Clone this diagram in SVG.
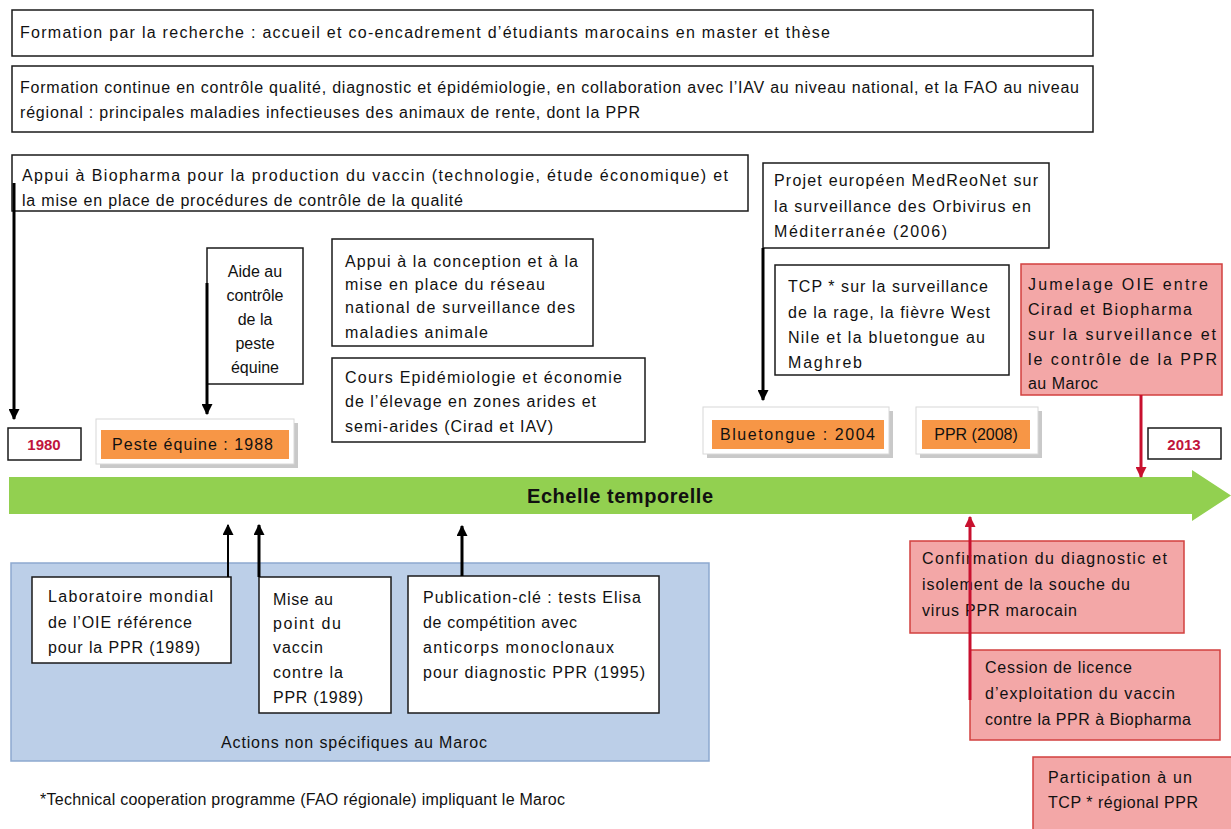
<svg xmlns="http://www.w3.org/2000/svg" width="1231" height="829" viewBox="0 0 1231 829">
<defs>
<style>
text{font-family:"Liberation Sans",Arial,sans-serif;font-size:16px;fill:#111}
.bx{fill:#fff;stroke:#1a1a1a;stroke-width:1.5}
.rd{fill:#F3A7A7;stroke:#D2403F;stroke-width:1.5}
.or{fill:#F79646}
.fr{fill:#fff;stroke:#d8d8d8;stroke-width:1}
.sh{fill:#c9c9c9}
.yr{font-weight:bold;fill:#C0143C;font-size:15px}
.c{text-anchor:middle}
.ln{stroke:#000;stroke-width:3;fill:none}
.lr{stroke:#C8102E;stroke-width:3;fill:none}
</style>
<marker id="ab" viewBox="0 0 10 10" refX="9" refY="5" markerWidth="11" markerHeight="11" markerUnits="userSpaceOnUse" orient="auto"><path d="M0,0 L10,5 L0,10 z" fill="#000"/></marker>
<marker id="ar" viewBox="0 0 10 10" refX="9" refY="5" markerWidth="11" markerHeight="11" markerUnits="userSpaceOnUse" orient="auto"><path d="M0,0 L10,5 L0,10 z" fill="#C8102E"/></marker>
</defs>
<rect width="1231" height="829" fill="#fff"/>

<g id="timeline">
<path d="M9,477 H1192 V470 L1231,495.5 L1192,521 V514 H9 Z" fill="#92D050"/>
<text x="620" y="503" class="c" style="font-weight:bold;font-size:20px" textLength="186" lengthAdjust="spacing">Echelle temporelle</text>
</g>

<g id="blue-zone">
<rect x="11" y="563" width="698" height="198" fill="#BCCFE8" stroke="#8DA9CF" stroke-width="1.5"/>
<text x="221" y="748" textLength="266" lengthAdjust="spacing">Actions non spécifiques au Maroc</text>
</g>

<g id="n-formation-recherche">
<rect class="bx" x="12" y="10" width="1081" height="46"/>
<text x="20" y="38" textLength="810" lengthAdjust="spacing">Formation par la recherche : accueil et co-encadrement d’étudiants marocains en master et thèse</text>
</g>

<g id="n-formation-continue">
<rect class="bx" x="12" y="66" width="1081" height="66"/>
<text x="20" y="93" textLength="1059" lengthAdjust="spacing">Formation continue en contrôle qualité, diagnostic et épidémiologie, en collaboration avec l’IAV au niveau national, et la FAO au niveau</text>
<text x="20" y="118" textLength="620" lengthAdjust="spacing">régional : principales maladies infectieuses des animaux de rente, dont la PPR</text>
</g>

<g id="n-appui-biopharma">
<rect class="bx" x="12" y="155" width="736" height="56"/>
<text x="22" y="181" textLength="706" lengthAdjust="spacing">Appui à Biopharma pour la production du vaccin (technologie, étude économique) et</text>
<text x="22" y="206" textLength="441" lengthAdjust="spacing">la mise en place de procédures de contrôle de la qualité</text>
</g>

<g id="n-aide-peste">
<rect class="bx" x="207" y="248" width="96" height="136"/>
<text class="c" x="255" y="277">Aide au</text>
<text class="c" x="255" y="301">contrôle</text>
<text class="c" x="255" y="325">de la</text>
<text class="c" x="255" y="349">peste</text>
<text class="c" x="255" y="373">équine</text>
</g>

<g id="n-appui-conception">
<rect class="bx" x="332" y="239" width="261" height="107"/>
<text x="345" y="267" textLength="233" lengthAdjust="spacing">Appui à la conception et à la</text>
<text x="345" y="290" textLength="200" lengthAdjust="spacing">mise en place du réseau</text>
<text x="345" y="313" textLength="230" lengthAdjust="spacing">national de surveillance des</text>
<text x="345" y="338" textLength="143" lengthAdjust="spacing">maladies animale</text>
</g>

<g id="n-cours-epidemiologie">
<rect class="bx" x="332" y="358" width="313" height="84"/>
<text x="345" y="383" textLength="277" lengthAdjust="spacing">Cours Epidémiologie et économie</text>
<text x="345" y="407" textLength="251" lengthAdjust="spacing">de l’élevage en zones arides et</text>
<text x="345" y="432" textLength="208" lengthAdjust="spacing">semi-arides (Cirad et IAV)</text>
</g>

<g id="n-medreonet">
<rect class="bx" x="763" y="163" width="286" height="85"/>
<text x="774" y="186" textLength="264" lengthAdjust="spacing">Projet européen MedReoNet sur</text>
<text x="774" y="212" textLength="257" lengthAdjust="spacing">la surveillance des Orbivirus en</text>
<text x="774" y="237" textLength="173" lengthAdjust="spacing">Méditerranée (2006)</text>
</g>

<g id="n-tcp-rage">
<rect class="bx" x="775" y="265" width="234" height="110"/>
<text x="788" y="292" textLength="200" lengthAdjust="spacing">TCP * sur la surveillance</text>
<text x="788" y="318" textLength="202" lengthAdjust="spacing">de la rage, la fièvre West</text>
<text x="788" y="343" textLength="197" lengthAdjust="spacing">Nile et la bluetongue au</text>
<text x="788" y="368" textLength="74" lengthAdjust="spacing">Maghreb</text>
</g>

<g id="n-jumelage">
<rect class="rd" x="1021" y="264" width="201" height="131"/>
<text x="1028" y="290" textLength="180" lengthAdjust="spacing">Jumelage  OIE entre</text>
<text x="1028" y="315" textLength="164" lengthAdjust="spacing">Cirad et Biopharma</text>
<text x="1028" y="340" textLength="188" lengthAdjust="spacing">sur la surveillance et</text>
<text x="1028" y="365" textLength="189" lengthAdjust="spacing">le contrôle de la PPR</text>
<text x="1028" y="389" textLength="70" lengthAdjust="spacing">au Maroc</text>
</g>

<g id="n-1980">
<rect class="bx" x="8" y="428" width="73" height="32"/>
<text class="yr c" x="44" y="450">1980</text>
</g>

<g id="n-peste-1988">
<rect class="sh" x="100" y="423" width="198" height="45"/>
<rect class="fr" x="96" y="419" width="198" height="45"/>
<rect class="or" x="101" y="430" width="188" height="29"/>
<text x="112" y="450" textLength="161" lengthAdjust="spacing">Peste équine : 1988</text>
</g>

<g id="n-bluetongue">
<rect class="sh" x="707" y="411" width="186" height="47"/>
<rect class="fr" x="703" y="407" width="186" height="47"/>
<rect class="or" x="712" y="420" width="172" height="29"/>
<text x="720" y="440" textLength="155" lengthAdjust="spacing">Bluetongue : 2004</text>
</g>

<g id="n-ppr-2008">
<rect class="sh" x="920" y="411" width="122" height="47"/>
<rect class="fr" x="916" y="407" width="122" height="47"/>
<rect class="or" x="922" y="420" width="108" height="29"/>
<text x="976" y="440" class="c">PPR (2008)</text>
</g>

<g id="n-2013">
<rect class="bx" x="1148" y="428" width="73" height="31"/>
<text class="yr c" x="1184" y="450">2013</text>
</g>

<g id="n-laboratoire">
<rect class="bx" x="32" y="577" width="199" height="86"/>
<text x="48" y="602" textLength="165" lengthAdjust="spacing">Laboratoire mondial</text>
<text x="48" y="628" textLength="144" lengthAdjust="spacing">de l’OIE référence</text>
<text x="48" y="653" textLength="152" lengthAdjust="spacing">pour la PPR (1989)</text>
</g>

<g id="n-mise-au-point">
<rect class="bx" x="259" y="577" width="132" height="136"/>
<text x="273" y="605" textLength="60" lengthAdjust="spacing">Mise au</text>
<text x="273" y="629" textLength="68" lengthAdjust="spacing">point du</text>
<text x="273" y="653" textLength="50" lengthAdjust="spacing">vaccin</text>
<text x="273" y="678" textLength="70" lengthAdjust="spacing">contre la</text>
<text x="273" y="703" textLength="90" lengthAdjust="spacing">PPR (1989)</text>
</g>

<g id="n-publication">
<rect class="bx" x="408" y="576" width="251" height="137"/>
<text x="423" y="603" textLength="218" lengthAdjust="spacing">Publication-clé : tests Elisa</text>
<text x="423" y="628" textLength="154" lengthAdjust="spacing">de compétition avec</text>
<text x="423" y="653" textLength="191" lengthAdjust="spacing">anticorps monoclonaux</text>
<text x="423" y="678" textLength="222" lengthAdjust="spacing">pour diagnostic PPR (1995)</text>
</g>

<g id="n-confirmation">
<rect class="rd" x="910" y="541" width="274" height="92"/>
<text x="922" y="564" textLength="245" lengthAdjust="spacing">Confirmation du diagnostic et</text>
<text x="922" y="590" textLength="208" lengthAdjust="spacing">isolement de la souche du</text>
<text x="922" y="616" textLength="155" lengthAdjust="spacing">virus PPR marocain</text>
</g>

<g id="n-cession">
<rect class="rd" x="970" y="650" width="250" height="90"/>
<text x="985" y="673" textLength="147" lengthAdjust="spacing">Cession de licence</text>
<text x="985" y="699" textLength="190" lengthAdjust="spacing">d’exploitation du vaccin</text>
<text x="985" y="725" textLength="206" lengthAdjust="spacing">contre la PPR à Biopharma</text>
</g>

<g id="n-participation">
<rect class="rd" x="1033" y="757" width="205" height="80"/>
<text x="1048" y="783" textLength="144" lengthAdjust="spacing">Participation à un</text>
<text x="1048" y="808" textLength="150" lengthAdjust="spacing">TCP * régional PPR</text>
</g>

<g id="connectors">
<line class="ln" x1="14" y1="183" x2="14" y2="419" marker-end="url(#ab)"/>
<line class="ln" x1="207" y1="283" x2="207" y2="414" marker-end="url(#ab)"/>
<line class="ln" x1="763" y1="248" x2="763" y2="400" marker-end="url(#ab)"/>
<line class="lr" x1="1141" y1="395" x2="1141" y2="477" marker-end="url(#ar)"/>
<line class="ln" style="stroke-width:2" x1="228" y1="577" x2="228" y2="525" marker-end="url(#ab)"/>
<line class="ln" x1="259" y1="577" x2="259" y2="525" marker-end="url(#ab)"/>
<line class="ln" x1="462" y1="576" x2="462" y2="526" marker-end="url(#ab)"/>
<line class="lr" x1="970" y1="700" x2="970" y2="517" marker-end="url(#ar)"/>
</g>

<g id="footnote">
<text x="40" y="805" textLength="525" lengthAdjust="spacing">*Technical cooperation programme (FAO régionale) impliquant le Maroc</text>
</g>
</svg>
